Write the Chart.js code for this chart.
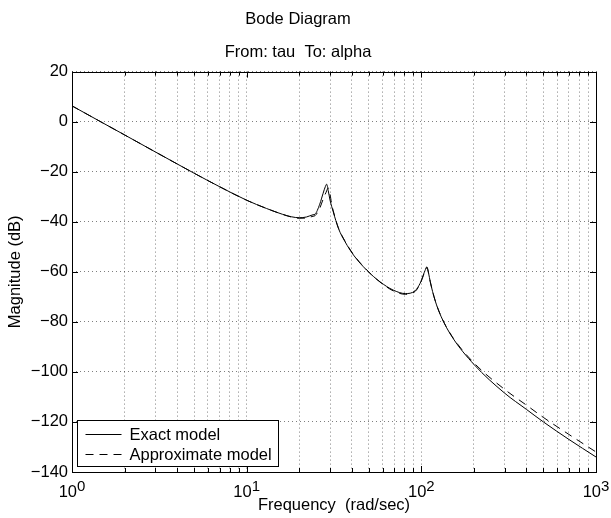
<!DOCTYPE html>
<html>
<head>
<meta charset="utf-8">
<title>Bode Diagram</title>
<script src="https://cdn.jsdelivr.net/npm/chart.js@4.4.1/dist/chart.umd.min.js"></script>
<style>
  html, body { margin: 0; padding: 0; background: #fff; }
  #wrap { width: 611px; height: 518px; }
</style>
</head>
<body>
<div id="wrap"><canvas id="bodeChart" width="611" height="518"></canvas></div>
<script>
// frequency (rad/sec) and magnitude (dB)
var freqExact = [1, 1.5, 2, 3, 4, 5, 7, 10, 13, 16, 18, 20, 22, 24, 24.6, 26.2, 27.4, 28.2, 28.7, 29.3, 30, 31.3, 33.5, 36.6, 40.9, 48.6, 58, 69, 81, 92, 98.4, 102.6, 105, 107.6, 110, 112.5, 119.7, 130, 150, 200, 300, 400, 500, 700, 1000];
var magExact = [6.3, -0.5, -5.3, -12.1, -16.9, -20.6, -26.0, -31.4, -34.7, -37.0, -38.0, -38.4, -38.1, -37.2, -37.0, -33.0, -28.6, -26.0, -25.0, -27.5, -31.3, -36.0, -42.6, -48.0, -53.3, -59.3, -64.0, -67.3, -68.7, -67.6, -64.6, -61.3, -59.5, -58.0, -60.5, -64.0, -71.3, -78.0, -86.0, -97.0, -108.5, -115.0, -120.0, -127.0, -134.0];

var freqApprox = [1, 1.5, 2, 3, 4, 5, 7, 10, 13, 16, 18, 20, 22, 24, 24.6, 26.2, 27.4, 28.5, 29.3, 30, 30.6, 31.3, 33.5, 36.6, 40.9, 48.6, 58, 69, 81, 92, 98.4, 102.6, 105, 107.6, 110, 112.5, 119.7, 130, 150, 200, 300, 400, 500, 700, 1000];
var magApprox = [6.3, -0.5, -5.3, -12.1, -16.9, -20.6, -26.0, -31.4, -34.7, -37.0, -38.1, -38.6, -38.5, -37.8, -37.6, -34.6, -31.0, -28.2, -26.5, -29.0, -32.5, -35.6, -42.4, -47.8, -53.1, -59.2, -64.1, -67.6, -69.0, -67.9, -64.9, -61.6, -59.8, -58.3, -60.6, -64.0, -71.2, -77.9, -85.8, -96.4, -107.0, -113.3, -118.2, -125.0, -132.0];

var seriesNames = ['Exact model', 'Approximate model'];

var xDecades = [1, 10, 100, 1000];
var xExponents = ['0', '1', '2', '3'];
var yTicks = [20, 0, -20, -40, -60, -80, -100, -120, -140];

var FONT = 'Liberation Sans, Arial, Helvetica, sans-serif';
var approxDash = [8, 6];

function toPoints(xs, ys) {
    return xs.map(function(x, i) { return { x: x, y: ys[i] }; });
}

// box, inward ticks, 10^n labels and the legend inside the axes
var matlabAxes = {
    id: 'matlabAxes',
    afterDatasetsDraw: function(chart) {
        var ctx = chart.ctx, a = chart.chartArea;
        var xs = chart.scales.x, ys = chart.scales.y;
        ctx.save();
        ctx.strokeStyle = '#000';
        ctx.lineWidth = 1;
        ctx.setLineDash([]);
        ctx.beginPath();
        xs.ticks.forEach(function(t) {
            var px = Math.round(xs.getPixelForValue(t.value)) + 0.5;
            var len = xDecades.indexOf(t.value) >= 0 ? 6 : 4;
            ctx.moveTo(px, a.bottom); ctx.lineTo(px, a.bottom - len);
            ctx.moveTo(px, a.top); ctx.lineTo(px, a.top + len);
        });
        ys.ticks.forEach(function(t) {
            var py = Math.round(ys.getPixelForValue(t.value)) + 0.5;
            ctx.moveTo(a.left, py); ctx.lineTo(a.left + 6, py);
            ctx.moveTo(a.right, py); ctx.lineTo(a.right - 6, py);
        });
        ctx.stroke();
        ctx.strokeRect(Math.round(a.left) + 0.5, Math.round(a.top) + 0.5,
                       Math.round(a.right - a.left), Math.round(a.bottom - a.top));

        // x tick labels: 10 with a raised exponent
        ctx.fillStyle = '#000';
        ctx.textBaseline = 'alphabetic';
        ctx.textAlign = 'left';
        xDecades.forEach(function(d, i) {
            var px = xs.getPixelForValue(d);
            ctx.font = '16.5px ' + FONT;
            var wBase = ctx.measureText('10').width;
            ctx.font = '15px ' + FONT;
            var wExp = ctx.measureText(xExponents[i]).width;
            var x0 = px - (wBase + wExp) / 2;
            ctx.font = '16.5px ' + FONT;
            ctx.fillText('10', x0, a.bottom + 25);
            ctx.font = '15px ' + FONT;
            ctx.fillText(xExponents[i], x0 + wBase, a.bottom + 19);
        });
        ctx.restore();
    },
    afterDraw: function(chart) {
        var ctx = chart.ctx, a = chart.chartArea;
        var sets = chart.data.datasets;
        ctx.save();
        ctx.font = '16.5px ' + FONT;
        var textW = 0;
        sets.forEach(function(ds) { textW = Math.max(textW, ctx.measureText(ds.label).width); });
        var left = Math.round(a.left) + 5.5;
        var w = Math.round(52 + textW + 7);
        var h = 46;
        var top = Math.round(a.bottom) - 5.5 - h;
        ctx.fillStyle = '#fff';
        ctx.fillRect(left, top, w, h);
        ctx.strokeStyle = '#000';
        ctx.lineWidth = 1;
        ctx.strokeRect(left, top, w, h);
        sets.forEach(function(ds, i) {
            var cy = Math.round(top + 13 + i * 20.7) + 0.5;
            ctx.setLineDash(ds.borderDash || []);
            ctx.beginPath();
            ctx.moveTo(left + 8, cy);
            ctx.lineTo(left + 44, cy);
            ctx.stroke();
            ctx.setLineDash([]);
            ctx.fillStyle = '#000';
            ctx.textBaseline = 'middle';
            ctx.fillText(ds.label, left + 52, cy + 1);
        });
        ctx.restore();
    }
};

Chart.defaults.color = '#000';
Chart.defaults.font.family = FONT;

var ctx = document.getElementById('bodeChart').getContext('2d');
var bodeChart = new Chart(ctx, {
    type: 'line',
    data: {
        datasets: [{
                label: seriesNames[0],
                data: toPoints(freqExact, magExact),
                borderColor: '#000',
                borderWidth: 1,
                pointRadius: 0,
                fill: false,
                cubicInterpolationMode: 'monotone'
            },
            {
                label: seriesNames[1],
                data: toPoints(freqApprox, magApprox),
                borderColor: '#000',
                borderWidth: 1,
                borderDash: approxDash,
                pointRadius: 0,
                fill: false,
                cubicInterpolationMode: 'monotone'
            }
        ]
    },
    options: {
        responsive: false,
        animation: false,
        devicePixelRatio: 1,
        layout: { padding: { left: 0, right: 15, top: 0, bottom: 0 } },
        plugins: {
            legend: { display: false },
            tooltip: { enabled: false },
            title: {
                display: true,
                text: 'Bode Diagram',
                color: '#000',
                font: { size: 16.5, weight: 'normal' },
                padding: { top: 10, bottom: 0 }
            },
            subtitle: {
                display: true,
                text: 'From: tau  To: alpha',
                color: '#000',
                font: { size: 16.5, weight: 'normal' },
                padding: { top: 13, bottom: 9 }
            }
        },
        scales: {
            x: {
                type: 'logarithmic',
                min: 1,
                max: 1000,
                afterBuildTicks: function(axis) {
                    var ticks = [];
                    xDecades.forEach(function(d, i) {
                        if (i === xDecades.length - 1) { ticks.push({ value: d }); return; }
                        for (var m = 1; m < 10; m++) ticks.push({ value: d * m });
                    });
                    axis.ticks = ticks;
                },
                afterFit: function(axis) { axis.height = 46; },
                ticks: { display: false, autoSkip: false },
                grid: { color: 'rgba(0,0,0,0.5)', drawTicks: false, lineWidth: 1 },
                border: { display: false, dash: [1, 3] },
                title: {
                    display: true,
                    text: 'Frequency  (rad/sec)',
                    font: { size: 16.5 },
                    padding: { top: 0, bottom: 3 }
                }
            },
            y: {
                min: -140,
                max: 20,
                afterBuildTicks: function(axis) {
                    axis.ticks = yTicks.map(function(v) { return { value: v }; });
                },
                afterFit: function(axis) { axis.width = 72; },
                ticks: {
                    font: { size: 16.5 },
                    padding: 4,
                    callback: function(v) { return v < 0 ? '\u2212' + Math.abs(v) : String(v); }
                },
                grid: { color: 'rgba(0,0,0,0.5)', drawTicks: false, lineWidth: 1 },
                border: { display: false, dash: [1, 3] },
                title: {
                    display: true,
                    text: 'Magnitude (dB)',
                    font: { size: 16.5 },
                    padding: { top: 6, bottom: 0 }
                }
            }
        }
    },
    plugins: [matlabAxes]
});
</script>
</body>
</html>
